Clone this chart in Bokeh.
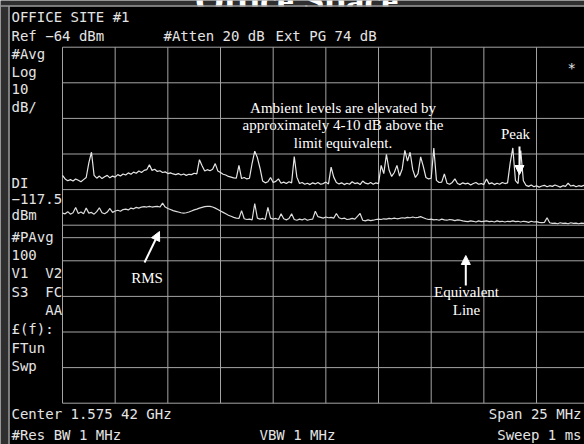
import numpy as np
from bokeh.plotting import figure
from bokeh.models import Range1d, Arrow, NormalHead
from bokeh.core.properties import value
from bokeh.embed import file_html
from bokeh.resources import INLINE

# ---- analyzer settings -------------------------------------------------
CENTER_MHZ = 1575.42
SPAN_MHZ = 25.0
REF_DBM = -64.0
DB_PER_DIV = 10.0
N_DIV = 10
DISPLAY_LINE_DBM = -117.5

# ---- measured traces (dBm), evenly spaced across the span -----------------
peak_dbm = [
    -100.0, -101.0, -101.5, -101.2, -101.6, -101.0, -101.4, -101.8, -101.2, -100.6,
    -96.5, -93.5, -100.0,
    -100.8, -100.2, -100.9, -100.4, -100.0, -100.7, -100.2,
    -100.5, -99.8, -100.2, -99.6, -99.9, -99.3, -99.7, -99.1, -99.4, -98.8, -99.2, -98.6, -98.4,
    -97.0,
    -98.6, -98.3, -98.9, -98.7, -99.2, -99.0, -99.5, -99.3, -99.6,
    -99.8, -99.5, -99.9, -99.6, -100.0, -99.7, -99.8, -99.4, -99.6,
    -95.6, -97.3,
    -98.8, -98.4, -98.7, -98.3,
    -96.7,
    -98.8, -99.2, -99.7, -99.9, -100.3, -100.5, -100.7,
    -100.8, -97.2,
    -100.9, -100.6, -101.0, -100.8,
    -96.6, -93.2, -95.0, -98.0,
    -101.6, -102.1, -101.8, -100.6, -102.0, -101.7, -101.0, -102.2, -101.9, -102.3, -101.8, -102.1,
    -94.7, -100.5,
    -102.3, -102.0, -102.5, -102.2, -102.6, -102.1, -102.4, -102.0, -102.5, -102.3, -101.9, -102.4,
    -97.7, -100.5,
    -102.0, -102.4, -102.1, -102.6, -102.2, -102.5, -101.8, -102.3, -102.1, -102.6, -101.6, -102.2,
    -102.4, -102.0, -102.5, -102.1, -102.3,
    -97.2, -99.5, -94.1, -98.5, -100.3, -99.2, -97.2, -100.2, -98.2, -93.0, -96.0, -93.5, -98.4,
    -100.6, -99.5, -94.8, -97.5, -100.6, -101.0, -100.8, -92.3, -101.4, -102.0, -101.9, -99.6,
    -102.2, -102.5, -102.0, -101.0,
    -102.3, -102.6, -102.1, -102.4, -102.2, -102.7, -102.3, -102.0, -102.5, -102.3, -102.6,
    -101.0,
    -102.4, -102.1, -102.6, -102.2, -102.5, -102.0, -102.3, -102.1,
    -96.5, -92.3, -101.5, -102.3, -93.0, -101.5,
    -102.8, -103.1, -102.7, -103.2, -102.9, -103.3, -103.0, -102.8, -103.2, -102.9,
    -103.1, -102.7, -103.0, -103.3, -102.9, -103.1, -102.2, -103.0, -102.8, -103.2,
    -102.9, -103.1, -102.8, -103.0, -102.9,
]

rms_dbm = [
    -110.6, -110.8, -110.2, -110.9, -110.5, -109.0, -110.7, -110.3, -110.8, -109.2,
    -110.6, -110.4, -110.9, -110.2, -109.1, -110.5, -110.8, -110.3, -109.3, -110.4,
    -110.0, -109.8, -110.1, -109.6, -109.5, -109.7, -109.2, -109.4, -109.0, -109.2, -108.9,
    -108.8, -108.9, -108.7, -108.9, -108.8, -108.7, -108.9,
    -107.8, -108.9,
    -109.3, -109.6, -109.9, -110.1, -110.3, -110.5, -110.6, -110.5, -110.3,
    -110.0, -109.7, -109.5, -109.2, -109.0, -108.8, -108.7, -108.7,
    -108.9, -109.2, -109.6, -110.0, -110.4, -110.8, -111.2, -111.5, -111.8, -112.0, -112.1,
    -109.9, -112.2,
    -112.4, -112.3, -112.5,
    -107.9, -112.0,
    -112.3, -112.1, -112.4,
    -109.0, -112.0,
    -112.3, -112.1, -112.4,
    -110.8,
    -112.2, -112.5, -112.1,
    -110.8,
    -112.4, -112.6, -112.3, -112.5, -112.2, -112.6, -112.4, -112.3,
    -110.1, -111.6,
    -111.8, -112.0, -111.7, -111.9, -111.8, -112.0,
    -110.7, -111.9,
    -112.2, -112.0, -112.4, -112.3, -112.1, -112.3,
    -111.5, -110.7,
    -112.6, -112.8, -112.5, -112.7, -112.6, -112.4,
    -112.3, -112.4, -112.2, -112.3, -112.1, -112.2, -112.0, -112.2, -112.1, -111.9,
    -112.0, -111.8, -111.9, -111.7, -111.9, -111.8, -111.6, -111.9,
    -112.2, -112.4, -112.3, -112.5, -112.4, -112.6, -112.3, -112.5, -112.6, -112.4,
    -112.5, -112.7, -112.5, -112.6,
    -112.8, -112.9, -113.0, -112.8, -112.9, -113.1, -112.8, -113.0, -112.9, -112.8,
    -113.0, -112.9, -113.1, -112.8, -113.0, -112.9, -113.1, -112.9, -113.0, -112.8,
    -113.0, -112.9, -113.1, -112.9, -113.0, -113.2, -112.9, -113.1, -113.0, -113.2,
    -113.3, -113.2,
    -111.9,
    -113.3, -113.5, -113.4, -113.6, -113.3, -113.5, -113.4, -113.6, -113.3, -113.5,
    -113.4, -113.6, -113.4, -113.5, -113.3, -113.5,
]

# ---- screen text -------------------------------------------------------
NB = "\u00a0"
title_text = "Office Space"
header_texts = ["OFFICE SITE #1", "Ref \u221264 dBm", "#Atten 20 dB", "Ext PG 74 dB"]
side_texts = ["#Avg", "Log", "10", "dB/", "DI", "\u2212117.5", "dBm", "#PAvg", "100",
              "V1" + NB * 2 + "V2", "S3" + NB * 2 + "FC", NB * 4 + "AA", "\u00a3(f):", "FTun", "Swp"]
footer_texts = ["Center 1.575 42 GHz", "#Res BW 1 MHz", "VBW 1 MHz"]
footer_right_texts = ["Span 25 MHz", "Sweep 1 ms"]
note_lines = ["Ambient levels are elevated by",
              "approximately 4-10 dB above the",
              "limit equivalent."]
peak_label = "Peak"
rms_label = "RMS"
equiv_label = ["Equivalent", "Line"]

# ---- screen geometry (pixels) -----------------------------------------
W, H = 584, 444
GRID_LEFT_PX, GRID_TOP_PX = 62.0, 46.7
DIV_W_PX, DIV_H_PX = 52.67, 35.6
TEXT_LIFT = 5.0  # glyph baseline correction for the svg text renderer

f_start = CENTER_MHZ - SPAN_MHZ / 2
mhz_per_div = SPAN_MHZ / N_DIV


def fx(px):
    return f_start + (px - GRID_LEFT_PX) / DIV_W_PX * mhz_per_div


def fy(py):
    return REF_DBM - (py - GRID_TOP_PX) / DIV_H_PX * DB_PER_DIV


def ty(py):
    return fy(py - TEXT_LIFT)


p = figure(width=W, height=H, x_range=Range1d(fx(0), fx(W)), y_range=Range1d(fy(H), fy(0)),
           x_axis_type=None, y_axis_type=None, toolbar_location=None,
           output_backend="svg", min_border=0)
p.grid.visible = False
p.outline_line_color = None
p.background_fill_color = "#2f2f2f"
p.border_fill_color = "#2f2f2f"

MONO = value("DejaVu Sans Mono")
SERIF = value("Liberation Serif")

# title behind the screen
p.text(x=[fx(296)], y=[ty(4)], text=[title_text], text_font=SERIF, text_font_size="38px",
       text_font_style="bold", text_color="white", text_align="center",
       text_baseline="alphabetic")

# black screen area and its bezel edge
p.quad(left=[fx(9)], right=[fx(W + 5)], top=[fy(6)], bottom=[fy(H + 5)],
       fill_color="black", line_color=None)
p.segment(x0=[fx(0), fx(8.5)], y0=[fy(5.5), fy(5.5)], x1=[fx(W), fx(8.5)], y1=[fy(5.5), fy(H)],
          line_color="#9a9a9a", line_width=1.5)

# graticule
f_end = f_start + SPAN_MHZ
bottom_dbm = REF_DBM - N_DIV * DB_PER_DIV
vx = [f_start + k * mhz_per_div for k in range(N_DIV + 1)]
p.segment(x0=vx, y0=[REF_DBM] * len(vx), x1=vx, y1=[bottom_dbm] * len(vx),
          line_color="#a4a4a4", line_width=1)
hy = [REF_DBM - k * DB_PER_DIV for k in range(N_DIV + 1)] + [DISPLAY_LINE_DBM]
p.segment(x0=[f_start] * len(hy), y0=hy, x1=[f_end] * len(hy), y1=hy,
          line_color="#a4a4a4", line_width=1)

# traces
p.line(np.linspace(f_start, f_end, len(peak_dbm)), peak_dbm, line_color="#e6e6e6", line_width=1.2)
p.line(np.linspace(f_start, f_end, len(rms_dbm)), rms_dbm, line_color="#dcdcdc", line_width=1.2)

TXT = "#e4e4e4"


def mono(xs, ys, texts, align="left", size="14px"):
    p.text(x=[fx(v) for v in xs], y=[ty(v) for v in ys], text=texts, text_font=MONO,
           text_font_size=size, text_color=TXT, text_align=align, text_baseline="alphabetic")


mono([11, 11, 163, 275], [21, 40.5, 40.5, 40.5], header_texts)
side_y = [58, 76, 93.5, 111, 187, 203.5, 219, 241, 259.5, 277, 296, 314.5, 333, 352, 370]
mono([11] * len(side_texts), side_y, side_texts)
mono([11, 11, 259], [418.5, 439, 439], footer_texts)
mono([581, 581], [418.5, 439], footer_right_texts, align="right")
mono([567], [72], ["*"])


def serif(xs, ys, texts, size="15px"):
    p.text(x=[fx(v) for v in xs], y=[ty(v) for v in ys], text=texts, text_font=SERIF,
           text_font_size=size, text_color="white", text_align="center",
           text_baseline="alphabetic")


serif([342.5] * 3, [112, 129.5, 147], note_lines)
serif([515], [138.5], [peak_label])
serif([146.5], [282], [rms_label])
serif([466, 466], [296.5, 314.5], equiv_label)

# pointer arrows
for (x0, y0, x1, y1) in [(519, 146, 519, 174), (144, 262, 159, 231), (465.3, 285, 465.3, 255)]:
    p.add_layout(Arrow(x_start=fx(x0), y_start=fy(y0), x_end=fx(x1), y_end=fy(y1),
                       line_color="white", line_width=2,
                       end=NormalHead(size=9, fill_color="white", line_color="white")))

open("out.html", "w").write(file_html(p, INLINE))
